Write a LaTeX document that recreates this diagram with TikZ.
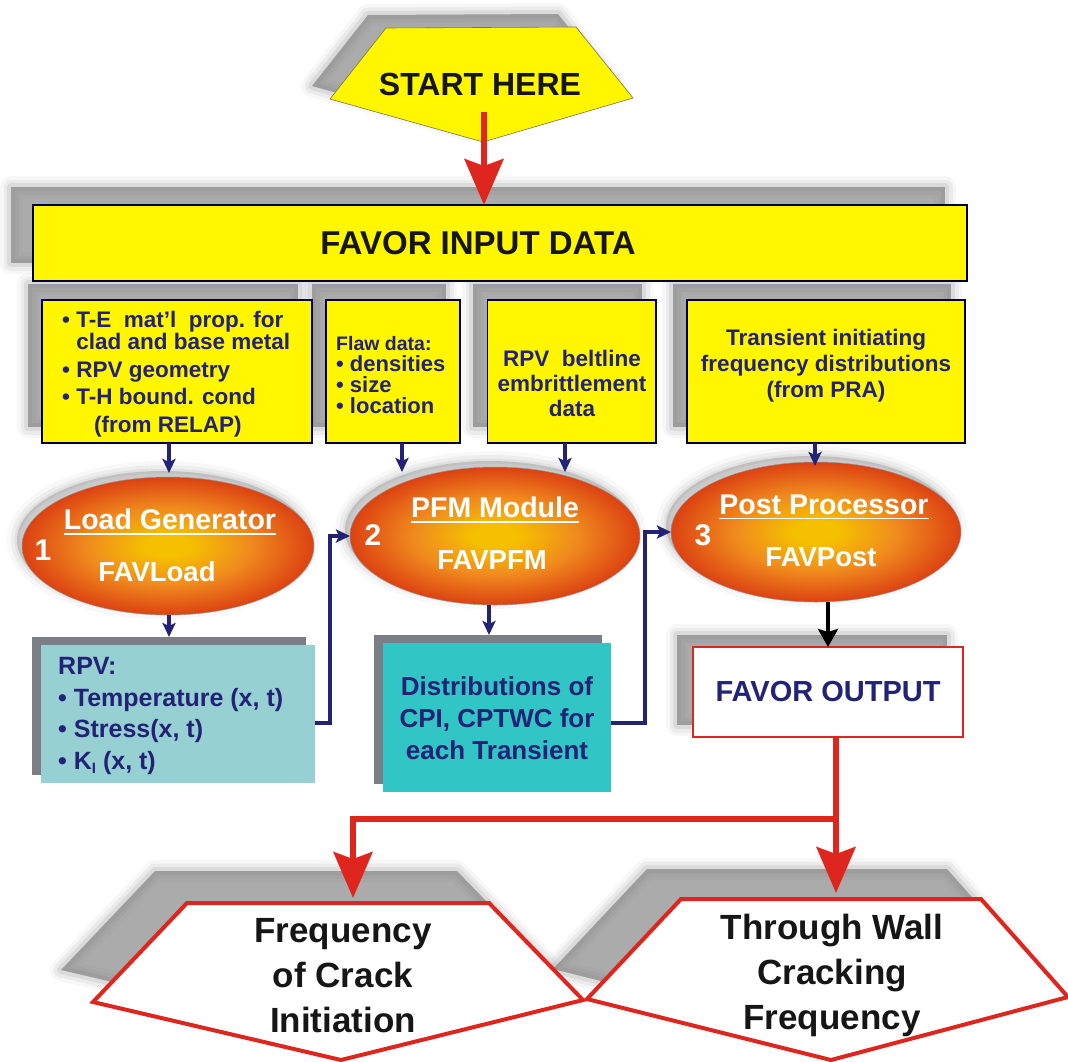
\documentclass[tikz,border=0pt]{standalone}
\usepackage{fontspec}
\setmainfont{Liberation Sans}
\usetikzlibrary{arrows.meta,shapes.geometric}
\definecolor{ylw}{RGB}{255,246,0}
\definecolor{navy}{RGB}{34,34,118}
\definecolor{redc}{RGB}{222,38,30}
\definecolor{tealL}{RGB}{150,208,210}
\definecolor{tealD}{RGB}{50,197,197}
\definecolor{shd}{RGB}{115,115,115}
\definecolor{shsolid}{RGB}{124,126,134}
\definecolor{ellin}{RGB}{245,192,0}
\definecolor{ellmid}{RGB}{240,138,30}
\definecolor{ellout}{RGB}{220,66,18}
\definecolor{ink}{RGB}{22,22,22}
\pgfdeclareradialshading{ellshade}{\pgfpointorigin}{color(0bp)=(ellin); color(4bp)=(ellin); color(14bp)=(ellmid); color(25bp)=(ellout); color(50bp)=(ellout)}
\newcommand\fsz[2]{\fontsize{#1}{#2}\selectfont}
\newcommand\myul[1]{\setbox0\hbox{#1}\rlap{\rule[-5pt]{\wd0}{1.8pt}}\box0}
\newcommand\softsh[2][]{%
  \foreach \w/\o in {22/0.06,15/0.09,8/0.13}{\draw[shd,line join=round,opacity=\o,line width=\w pt,#1] #2;}%
  \fill[shd,opacity=0.6,#1] #2;}
\newcommand\halo[2][]{%
  \foreach \w/\o in {20/0.05,12/0.08,5/0.1}{\draw[shd,opacity=\o,line width=\w pt,#1] #2;}%
  \fill[shd,opacity=0.3,#1] #2;}
\begin{document}
\begin{tikzpicture}[x=1pt,y=-1pt,font=\bfseries,
 ybox/.style={rectangle,draw=black!75!blue,line width=1.3pt,fill=ylw,inner sep=0pt,outer sep=0pt},
 ell/.style={ellipse,draw=black!40,line width=0.5pt,shade,shading=ellshade,inner sep=0pt,outer sep=0pt},
 shbox/.style={rectangle,fill=shsolid,inner sep=0pt,outer sep=0pt},
 navtxt/.style={text=navy,inner sep=0pt},
 whtxt/.style={text=white,inner sep=0pt},
 navarr/.style={draw=navy,line width=3.2pt,-{Stealth[length=14pt,width=13pt,inset=3pt]}},
 redarr/.style={draw=redc,line width=5.5pt,-{Stealth[length=46pt,width=39pt,inset=7pt]}},
 blkarr/.style={draw=black,line width=3.5pt,-{Stealth[length=18pt,width=20pt,inset=3pt]}}]
\useasboundingbox (0,0) rectangle (1068,1061);

% ---------- shadows ----------
\softsh[shift={(-18,-13)}]{(386,28)--(576,27)--(633,98)--(483,142)--(330,99)--cycle}
\softsh[shift={(-22,-18)}]{(33,205) rectangle (967,281)}
\softsh[shift={(-14,-16)}]{(42,300) rectangle (312,443)}
\softsh[shift={(-14,-16)}]{(326,300) rectangle (460,443)}
\softsh[shift={(-14,-16)}]{(487,300) rectangle (656,443)}
\softsh[shift={(-14,-16)}]{(687,300) rectangle (965,443)}
\halo[shift={(-5,-6)}]{(168,546) ellipse [x radius=146, y radius=69]}
\halo[shift={(-5,-6)}]{(495,536) ellipse [x radius=145, y radius=69]}
\halo[shift={(-5,-6)}]{(816,532) ellipse [x radius=145, y radius=70]}
\softsh[shift={(-16,-12)}]{(693,647) rectangle (963,737)}
\softsh[shift={(-32,-32)}]{(187,903)--(489,903)--(583,1000)--(341,1060)--(93,1002)--cycle}
\softsh[shift={(-34,-30)}]{(681,899)--(981,899)--(1068,997)--(831,1060)--(587,999)--cycle}

% ---------- start ----------
\draw[fill=ylw,draw=black!60!yellow,line width=0.6pt] (386,28)--(576,27)--(633,98)--(483,142)--(330,99)--cycle;
\node[text=ink,inner sep=0pt] (start) at (480,84) {\fsz{32}{36}START HERE};

% ---------- input data ----------
\node[ybox,minimum width=934pt,minimum height=76pt,text=ink] (in) at (500,243) {\hspace*{-44pt}\fsz{33}{36}FAVOR INPUT DATA};
\coordinate (sp) at (484,112);
\draw[redarr] (sp) -- (sp |- in.north);

\node[ybox,minimum width=270pt,minimum height=143pt] (A) at (177,371.5) {};
\node[ybox,minimum width=134pt,minimum height=143pt] (B) at (393,371.5) {};
\node[ybox,minimum width=168.5pt,minimum height=143pt] (C) at (571.75,371.5) {};
\node[ybox,minimum width=278pt,minimum height=143pt] (D) at (826,371.5) {};

\node[navtxt,anchor=west,align=left,font=\fsz{22.5}{20}\bfseries] (Atx) at (62,374)
 {• T-E\ \ mat’l\ \ prop. for\\\phantom{• }clad and base metal\\[8pt]• RPV geometry\\[5pt]• T-H bound. cond\\[8pt]\hspace*{32pt}(from RELAP)};
\node[navtxt,anchor=west,align=left,font=\fsz{22}{21}\bfseries] (Btx) at (336,375)
 {{\fsz{19.5}{21}Flaw data:}\\• densities\\• size\\• location};
\node[navtxt,align=center,font=\fsz{22.5}{25}\bfseries] (Ctx) at (572,383)
 {RPV\ \ beltline\\embrittlement\\data};
\node[navtxt,align=center,font=\fsz{22.5}{26}\bfseries] (Dtx) at (826,366)
 {Transient initiating\\frequency distributions\\(from PRA)};

% ---------- modules ----------
\node[ell,minimum width=292pt,minimum height=138pt] (E1) at (168,546) {};
\node[ell,minimum width=290pt,minimum height=138pt] (E2) at (495,536) {};
\node[ell,minimum width=290pt,minimum height=140pt] (E3) at (816,532) {};

\node[whtxt,font=\fsz{30}{30}\bfseries] (n1) at (43,550) {1};
\node[whtxt,font=\fsz{28.5}{30}\bfseries] (lg) at (170,522) {\myul{Load Generator}};
\node[whtxt,font=\fsz{27.5}{30}\bfseries] (fl) at (157,572) {FAVLoad};
\node[whtxt,font=\fsz{30}{30}\bfseries] (n2) at (373,535) {2};
\node[whtxt,font=\fsz{28.5}{30}\bfseries] (pm) at (495,510) {\myul{PFM Module}};
\node[whtxt,font=\fsz{27.5}{30}\bfseries] (fp) at (492,560) {FAVPFM};
\node[whtxt,font=\fsz{30}{30}\bfseries] (n3) at (703,535) {3};
\node[whtxt,font=\fsz{28.5}{30}\bfseries] (pp) at (824,507) {\myul{Post Processor}};
\node[whtxt,font=\fsz{27.5}{30}\bfseries] (fpo) at (821,557) {FAVPost};

\coordinate (tA) at (169,473);
\coordinate (tB) at (402,472);
\coordinate (tC) at (565,472);
\coordinate (tD) at (815,466);
\draw[navarr] (A.south -| tA) -- (tA);
\draw[navarr] (B.south -| tB) -- (tB);
\draw[navarr] (C.south -| tC) -- (tC);
\draw[navarr] (D.south -| tD) -- (tD);

% ---------- results ----------
\node[shbox,minimum width=274pt,minimum height=138pt] (rpvsh) at (169,706) {};
\node[rectangle,fill=tealL,minimum width=274pt,minimum height=138pt,inner sep=0pt,outer sep=0pt] (rpv) at (178,714) {};
\node[navtxt,anchor=west,align=left,font=\fsz{25}{31.5}\bfseries] (rpvtx) at (58,716)
 {RPV:\\• Temperature (x, t)\\• Stress(x, t)\\• K\raisebox{-4pt}{\fsz{15}{15}I} (x, t)};

\node[shbox,minimum width=228pt,minimum height=149pt] (distsh) at (488,709.5) {};
\node[rectangle,fill=tealD,minimum width=228pt,minimum height=149pt,inner sep=0pt,outer sep=0pt] (dist) at (497,717.5) {};
\node[navtxt,align=center,font=\fsz{26}{32}\bfseries] (disttx) at (497,718)
 {Distributions of\\CPI, CPTWC for\\each Transient};

\node[rectangle,draw=redc,line width=2pt,fill=white,minimum width=270pt,minimum height=90pt,inner sep=0pt,outer sep=0pt,text=navy,font=\fsz{29}{32}\bfseries] (out) at (828,692) {FAVOR OUTPUT};

\draw[navarr] (E1.south -| tA) -- (rpvsh.north -| tA);
\draw[navarr] (E2.south -| 489,0) -- (distsh.north -| 489,0);
\draw[blkarr] (E3.south -| out.north) -- (out.north);
\draw[navarr] ([yshift=-9pt]rpv.east) -- ++(15,0) |- (E2.west);
\draw[navarr] ([yshift=-5.5pt]dist.east) -- ++(34,0) |- (E3.west);

% ---------- outputs ----------
\draw[draw=redc,line width=4pt,fill=white] (187,903)--(489,903)--(583,1000)--(341,1060)--(93,1002)--cycle;
\draw[draw=redc,line width=4pt,fill=white] (681,899)--(981,899)--(1068,997)--(831,1060)--(587,999)--cycle;
\node[text=ink,align=center,font=\fsz{35}{45}\bfseries,inner sep=0pt] (fci) at (343,976) {Frequency\\of Crack\\Initiation};
\node[text=ink,align=center,font=\fsz{35}{45}\bfseries,inner sep=0pt] (twc) at (832,975) {Through Wall\\Cracking\\Frequency};

\coordinate (br) at (836,819);
\coordinate (tipL) at (353,898);
\coordinate (tipR) at (836,893);
\draw[redarr] (out.south -| tipR) -- (tipR);
\draw[redarr] (br) -| (tipL);
\end{tikzpicture}
\end{document}
